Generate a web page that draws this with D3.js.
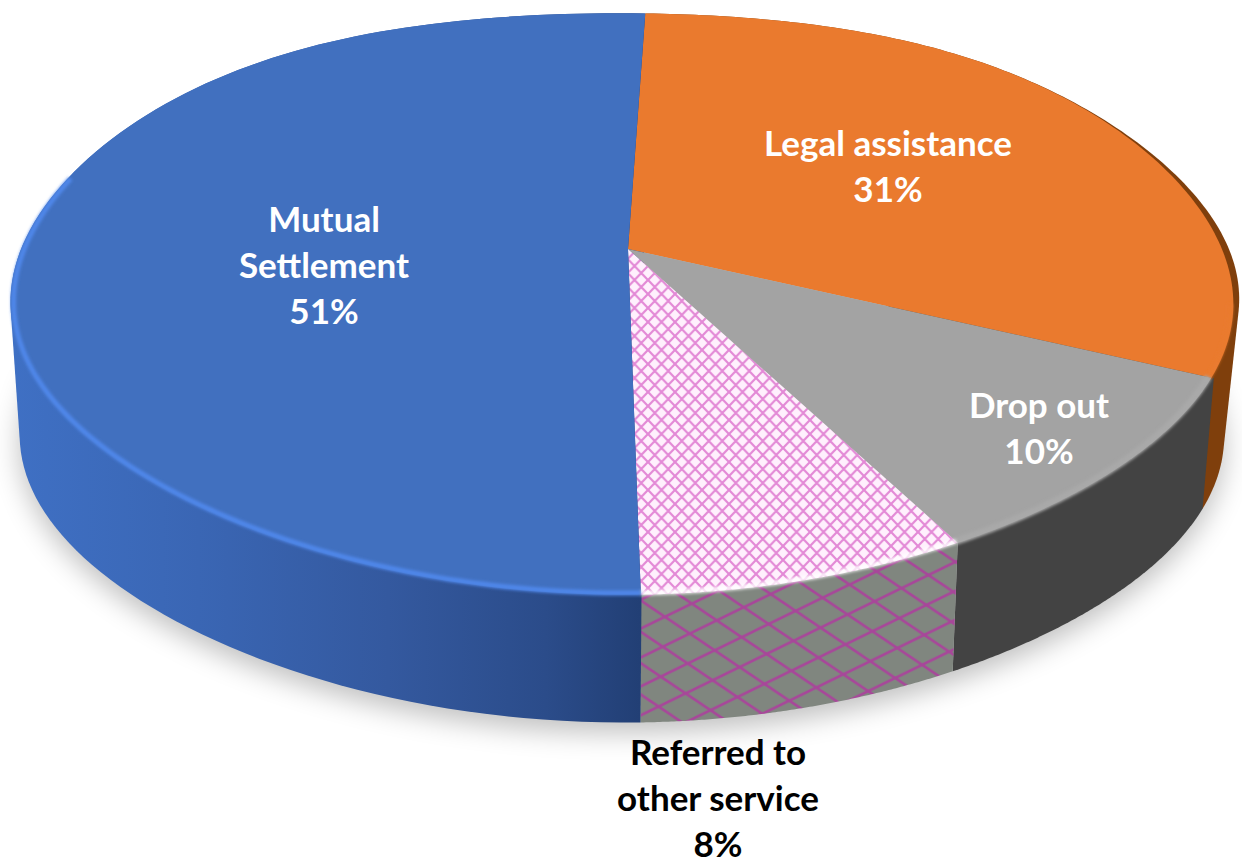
<!DOCTYPE html>
<html><head><meta charset="utf-8">
<script src="https://cdn.jsdelivr.net/npm/d3@7/dist/d3.min.js"></script>
<style>html,body{margin:0;padding:0;background:#fff;overflow:hidden}svg{display:block}</style>
</head><body><svg id="c" width="1242" height="859"></svg>
<script>
const categories = ["Legal assistance","Drop out","Referred to other service","Mutual Settlement"];
const values = [31,10,8,51];
const labelLines = [["Legal assistance"],["Drop out"],["Referred to","other service"],["Mutual","Settlement"]];
const faceFills = ["#ea7a2e","#a3a3a3","url(#hatchTop)","#4170bf"];
const wallFills = ["#7f3f0c","#434343","url(#hatchWall)","url(#blueWall)"];
const rimColors = ["#ea7a2e","#a9a9a9","#ffffff","#4f87ea"];
const labelColors = ["#fff","#fff","#000","#fff"];
const labelX = [888,1039,718,324];
const labelY = [144,406,753,220];

const svg=d3.select("#c");
const defs=svg.append("defs");
const cx=621.5,cy=248,rx=600,ry=280,persp=0.1925,skew=2,startDeg=2.9,wallScale=0.985,wallDrop=133,egg=7;
const apexX=628,apexY=249;
const deg=Math.PI/180;
// foreshortening of the viewing angle: how a pie angle lands on the tilted disc
const viewAngle=d3.scaleLinear().domain([2.9,114.5,150.5,179.3,362.9].map(v=>v*deg)).range([2.9,116,152.5,178.7,362.9].map(v=>v*deg));

function project(a0,s,drop,outer){ // a: clockwise from top
  const a=viewAngle(a0),x=Math.sin(a),y=-Math.cos(a),d=1-persp*y,w=Math.sin(2*a);
  return [cx+s*(rx*x+skew*y)/d+(outer||0)*Math.pow(Math.max(0,x),10), cy+s*ry*y/d+drop-egg*w*w];
}
const arcs=d3.pie().sort(null).value(d=>d).startAngle(startDeg*deg).endAngle((360+startDeg)*deg)(values);
const line=d3.line();
const samples=(a0,a1)=>d3.range(0,121).map(d3.scaleLinear([0,120],[a0,a1]));
const topArc=(a0,a1,s=1)=>samples(a0,a1).map(a=>project(a,s,0));
const wallTop=(a0,a1)=>samples(a0,a1).map(a=>project(a,1,0,7));
const botArc=(a0,a1)=>samples(a0,a1).map(a=>project(a,wallScale,wallDrop));

const blur=(id,s)=>defs.append("filter").attr("id",id).attr("x","-20%").attr("y","-20%").attr("width","140%").attr("height","140%")
  .append("feGaussianBlur").attr("stdDeviation",s);
blur("b0",0.5);blur("b1",1.7);blur("b2",14);
const bw=defs.append("linearGradient").attr("id","blueWall").attr("gradientUnits","userSpaceOnUse")
  .attr("x1",10).attr("x2",640).attr("y1",0).attr("y2",0);
[[0,"#3f70c4"],[.3,"#3a66b4"],[.6,"#34599f"],[.85,"#2b4c8a"],[1,"#223f75"]].forEach(s=>bw.append("stop").attr("offset",s[0]).attr("stop-color",s[1]));
const ht=defs.append("pattern").attr("id","hatchTop").attr("patternUnits","userSpaceOnUse").attr("width",13.5).attr("height",14);
ht.append("rect").attr("width",13.5).attr("height",14).attr("fill","#fff0fd");
ht.append("path").attr("d","M0,0L13.5,14M13.5,0L0,14").attr("stroke","#e389d6").attr("stroke-width",2.2);
const hw=defs.append("pattern").attr("id","hatchWall").attr("patternUnits","userSpaceOnUse").attr("width",52).attr("height",30).attr("patternTransform","translate(640,600) rotate(4)");
hw.append("rect").attr("width",52).attr("height",30).attr("fill","#80867f");
hw.append("path").attr("d","M0,0L52,30M0,30L52,0M-26,15L26,45M26,-15L78,15M-26,15L26,-15M26,45L78,15").attr("stroke","#a8469a").attr("stroke-width",2.7).attr("fill","none");

// soft shadow
svg.append("path").attr("d",line(botArc(0,2*Math.PI))+"Z").attr("transform","translate(0,10)")
  .attr("fill","#000").attr("opacity",.25).attr("filter","url(#b2)");

// walls: hull of each slice's upper and lower edge, painted back to front
svg.append("g").selectAll("path").data(arcs).join("path")
  .attr("d",d=>line(d3.polygonHull(wallTop(d.startAngle,d.endAngle).concat(botArc(d.startAngle,d.endAngle))))+"Z")
  .attr("fill",(d,i)=>wallFills[i]);

// faces
svg.append("g").selectAll("path").data(arcs).join("path")
  .attr("d",d=>line([[apexX,apexY]].concat(topArc(d.startAngle,d.endAngle)))+"Z")
  .attr("fill",(d,i)=>faceFills[i]).attr("filter",(d,i)=>i===2?"url(#b0)":null);

// front bevel
const rimFrom=100*deg,rimTo=285*deg;
svg.append("g").selectAll("path").data(arcs.filter(d=>d.endAngle>rimFrom&&d.startAngle<rimTo)).join("path")
  .attr("d",d=>line(topArc(Math.max(d.startAngle,rimFrom),Math.min(d.endAngle,rimTo),0.995)))
  .attr("fill","none").attr("stroke",d=>rimColors[d.index]).attr("stroke-width",d=>d.index===1?7:5)
  .attr("stroke-linecap","butt").attr("stroke-opacity",d=>d.index===2?.85:1).attr("filter","url(#b1)");

// labels
const labels=svg.append("g").attr("font-family","Lato, Carlito, sans-serif").attr("font-weight",700).attr("font-size",35).attr("text-anchor","middle");
arcs.forEach((d,i)=>{
  labelLines[i].concat([d.value+"%"]).forEach((t,j)=>labels.append("text").attr("x",labelX[i]).attr("y",labelY[i]+j*46).attr("dy","0.35em")
    .attr("fill",labelColors[i]).text(t));
});
</script></body></html>
